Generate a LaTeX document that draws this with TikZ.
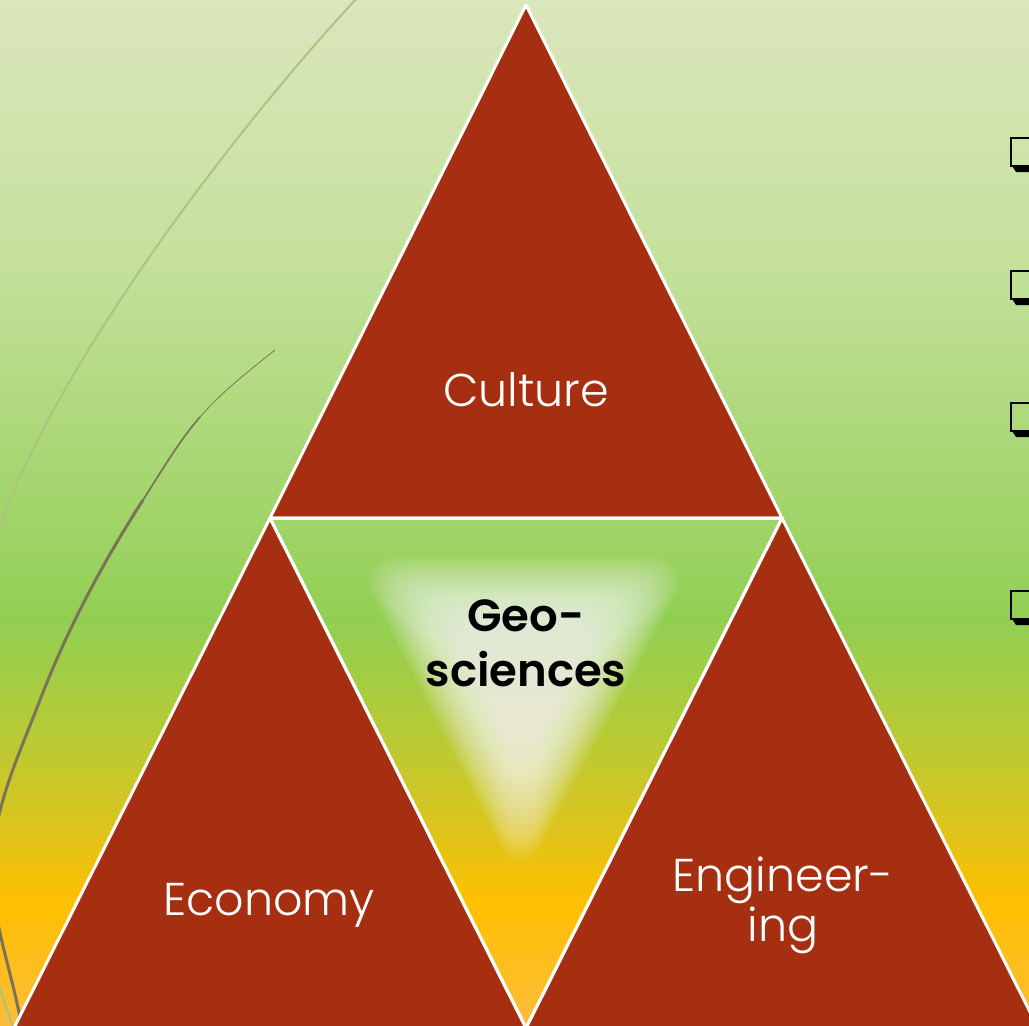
\documentclass[tikz,border=0pt]{standalone}
\usepackage{fontspec}
\setmainfont{Poppins}[UprightFont=* Light, BoldFont=* SemiBold]
\usetikzlibrary{calc}
\definecolor{brick}{RGB}{166,47,18}
\definecolor{bgA}{RGB}{219,230,188}
\definecolor{bgB}{RGB}{198,225,158}
\definecolor{bgC}{RGB}{163,213,108}
\definecolor{bgD}{RGB}{145,207,82}
\definecolor{bgE}{RGB}{185,202,52}
\definecolor{bgF}{RGB}{222,196,28}
\definecolor{bgG}{RGB}{255,192,0}
\definecolor{bgH}{RGB}{252,188,58}
\definecolor{faintarc}{RGB}{172,196,128}
\definecolor{darkarc}{RGB}{122,115,88}
\tikzset{
  tri/.style={fill=brick, draw=white, line width=3pt, line join=round},
  midtri/.style={draw=white, line width=3pt, line join=round},
  lighttext/.style={text=white, font=\fontsize{46}{50}\selectfont, align=center},
  boldtext/.style={text=black, font=\fontsize{45}{55}\selectfont\bfseries, align=center},
  bulletbox/.style={draw=black, line width=2pt},
  glowlayer/.style={fill=white, opacity=0.045, rounded corners=45pt},
}
\begin{document}
\begin{tikzpicture}[x=1pt,y=-1pt]
\useasboundingbox (0,0) rectangle (1029,1026);
\begin{scope}
\clip (0,0) rectangle (1029,1026);
% background
\shade[top color=bgA, bottom color=bgB] (0,0) rectangle (1029,250.5);
\shade[top color=bgB, bottom color=bgC] (0,250) rectangle (1029,500.5);
\shade[top color=bgC, bottom color=bgD] (0,500) rectangle (1029,620.5);
\shade[top color=bgD, bottom color=bgE] (0,620) rectangle (1029,740.5);
\shade[top color=bgE, bottom color=bgF] (0,740) rectangle (1029,830.5);
\shade[top color=bgF, bottom color=bgG] (0,830) rectangle (1029,900.5);
\shade[top color=bgG, bottom color=bgH] (0,900) rectangle (1029,1026);
% arcs
\draw[faintarc, line width=2pt] (357,-2) .. controls (250,113) and (80,330) .. (10,500)
  .. controls (-40,610) and (-40,900) .. (13,1026);
\draw[darkarc, line width=0.8pt] (275,350) .. controls (248.8,370.9) and (222,391.7) .. (200,417);
\draw[darkarc, line width=1.7pt] (200,417) .. controls (178,442.4) and (161.2,471.8) .. (143,500);
\draw[darkarc, line width=3pt] (143,500) .. controls (102.4,563) and (66.9,630) .. (40,700)
  .. controls (18.9,755) and (-8,811) .. (-8,870)
  .. controls (-8,915) and (7.3,959) .. (17,1003) -- (23,1030);
% triangles
\coordinate (T) at (526,5);
\coordinate (L) at (270,518);
\coordinate (R) at (782,518);
\coordinate (B) at (526,1028);
\coordinate (BL) at (14,1028);
\coordinate (BR) at (1038,1028);
\begin{scope}
\clip (L) -- (R) -- (B) -- cycle;
\foreach \i in {0,...,36}{
  \pgfmathsetmacro{\s}{1-\i*0.015}
  \fill[glowlayer]
    ($(524,672)+\s*(-172,-115)$) -- ($(524,672)+\s*(172,-115)$) -- ($(524,672)+\s*(-4,212)$) -- cycle;
}
\end{scope}
\draw[tri] (T) -- (R) -- (L) -- cycle;
\draw[tri] (L) -- (B) -- (BL) -- cycle;
\draw[tri] (R) -- (BR) -- (B) -- cycle;
\draw[midtri] (L) -- (R) -- (B) -- cycle;
% bullets
\foreach \yt in {137, 270, 402, 590}{
  \draw[bulletbox] (1010.5,\yt+1) rectangle (1045,\yt+29);
  \fill[black] (1012,\yt+29) -- (1045,\yt+29) -- (1045,\yt+35) -- (1016,\yt+35) -- cycle;
}
\end{scope}
% labels
\node[lighttext] (culture) at (526,390) {Culture};
\node[lighttext] (economy) at (269,905) {Economy};
\node[lighttext] (engineering) at (783,905) {Engineer-\\ing};
\node[boldtext] (geo) at (526,643) {Geo-\\sciences};
\end{tikzpicture}
\end{document}
